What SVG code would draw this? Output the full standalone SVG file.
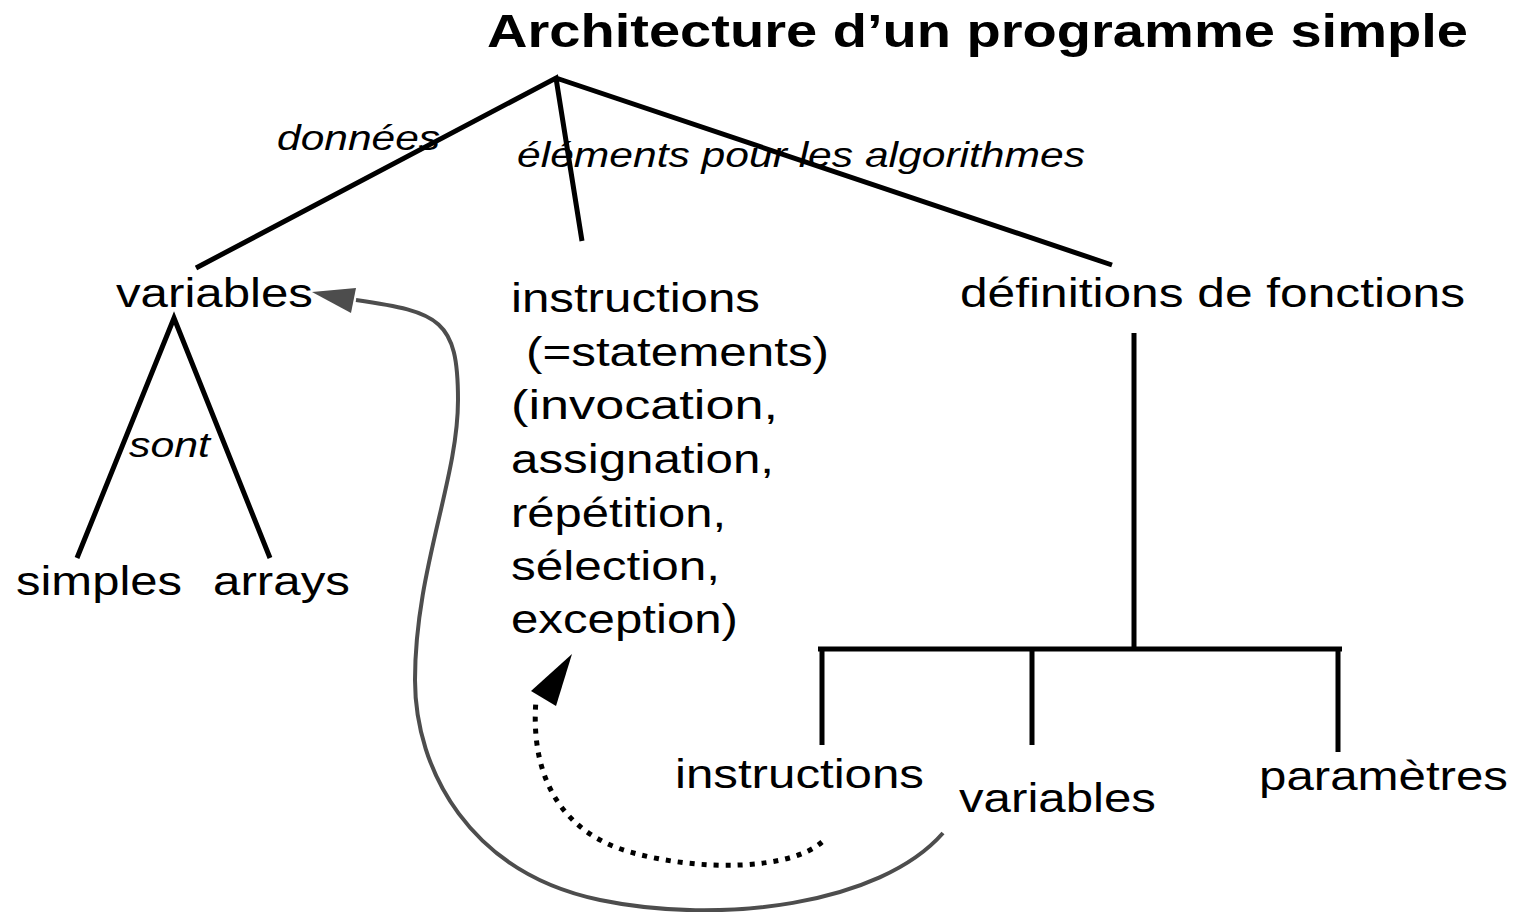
<svg xmlns="http://www.w3.org/2000/svg" width="1514" height="912" viewBox="0 0 1514 912">
<style>
text{font-family:"Liberation Sans",Arial,sans-serif;fill:#000}
.t{font-size:41px}
.i{font-size:35px;font-style:italic}
.h{font-size:47px;font-weight:bold}
.ln{stroke:#000;stroke-width:5;fill:none}
</style>
<rect width="1514" height="912" fill="#fff"/>
<g id="title"><text class="h" x="487" y="47" textLength="981" lengthAdjust="spacingAndGlyphs">Architecture d’un programme simple</text></g>
<g id="connectors">
<path class="ln" d="M196,268 L556,78 L582,241 M556,78 L1112,265"/>
<path class="ln" d="M77,558 L174,318 L270,558"/>
<path class="ln" d="M1134,333 V649 M818,649 H1342 M822,647 V745 M1032,647 V745 M1338,647 V752"/>
<path d="M943,833 C880,905 720,925 600,900 C470,873 415,770 415,680 C415,570 458,480 458,400 C458,320 440,312 356,300" fill="none" stroke="#4d4d4d" stroke-width="4"/>
<polygon points="312,292 356,288 351,313" fill="#4d4d4d"/>
<path d="M822,842 C790,870 700,872 630,852 C560,832 530,775 536,700" fill="none" stroke="#000" stroke-width="5" stroke-dasharray="5,7"/>
<polygon points="572,654 531,691 556,706" fill="#000"/>
</g>
<g id="labels">
<text class="i" x="277" y="150" textLength="163" lengthAdjust="spacingAndGlyphs">données</text>
<text class="i" x="517" y="167" textLength="568" lengthAdjust="spacingAndGlyphs">éléments pour les algorithmes</text>
<text class="i" x="129" y="457" textLength="81" lengthAdjust="spacingAndGlyphs">sont</text>
</g>
<g id="variables"><text class="t" x="116" y="307" textLength="197" lengthAdjust="spacingAndGlyphs">variables</text></g>
<g id="instructions">
<text class="t" x="511" y="312" textLength="249" lengthAdjust="spacingAndGlyphs">instructions</text>
<text class="t" x="526" y="366" textLength="303" lengthAdjust="spacingAndGlyphs">(=statements)</text>
<text class="t" x="511" y="419" textLength="267" lengthAdjust="spacingAndGlyphs">(invocation,</text>
<text class="t" x="511" y="473" textLength="263" lengthAdjust="spacingAndGlyphs">assignation,</text>
<text class="t" x="511" y="527" textLength="215" lengthAdjust="spacingAndGlyphs">répétition,</text>
<text class="t" x="511" y="580" textLength="209" lengthAdjust="spacingAndGlyphs">sélection,</text>
<text class="t" x="511" y="633" textLength="227" lengthAdjust="spacingAndGlyphs">exception)</text>
</g>
<g id="definitions"><text class="t" x="960" y="307" textLength="505" lengthAdjust="spacingAndGlyphs">définitions de fonctions</text></g>
<g id="simples"><text class="t" x="16" y="595" textLength="166" lengthAdjust="spacingAndGlyphs">simples</text></g>
<g id="arrays"><text class="t" x="213" y="595" textLength="137" lengthAdjust="spacingAndGlyphs">arrays</text></g>
<g id="f-instructions"><text class="t" x="675" y="788" textLength="249" lengthAdjust="spacingAndGlyphs">instructions</text></g>
<g id="f-variables"><text class="t" x="959" y="812" textLength="197" lengthAdjust="spacingAndGlyphs">variables</text></g>
<g id="f-parametres"><text class="t" x="1259" y="790" textLength="249" lengthAdjust="spacingAndGlyphs">paramètres</text></g>
</svg>
